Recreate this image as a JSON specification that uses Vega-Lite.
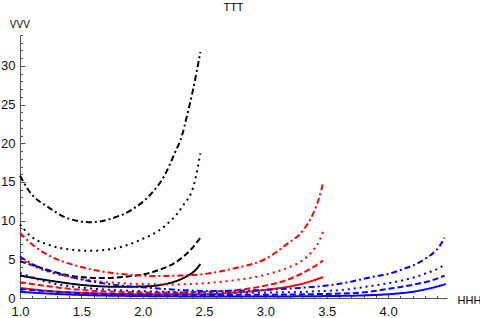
{
  "$schema": "https://vega.github.io/schema/vega-lite/v6.json",
  "width": 427,
  "height": 263,
  "autosize": {"type": "none"},
  "padding": {"left": 20, "top": 35, "right": 33, "bottom": 20},
  "background": "#ffffff",
  "title": {"text": "TTT", "fontSize": 11, "fontWeight": "normal", "font": "Liberation Sans", "color": "#000000", "anchor": "middle", "frame": "group", "baseline": "alphabetic", "offset": -3},
  "config": {"view": {"stroke": null}, "font": "Liberation Sans"},
  "data": {"values": [
    {"g":"black","s":"dashdot","x":1.0,"y":15.8},{"g":"black","s":"dashdot","x":1.08,"y":13.7},{"g":"black","s":"dashdot","x":1.23,"y":11.75},{"g":"black","s":"dashdot","x":1.39,"y":10.3},{"g":"black","s":"dashdot","x":1.58,"y":9.8},{"g":"black","s":"dashdot","x":1.77,"y":10.4},{"g":"black","s":"dashdot","x":1.91,"y":11.4},{"g":"black","s":"dashdot","x":2.07,"y":13.5},{"g":"black","s":"dashdot","x":2.18,"y":15.9},{"g":"black","s":"dashdot","x":2.26,"y":18.7},{"g":"black","s":"dashdot","x":2.32,"y":21.0},{"g":"black","s":"dashdot","x":2.36,"y":23.5},{"g":"black","s":"dashdot","x":2.41,"y":26.9},{"g":"black","s":"dashdot","x":2.47,"y":31.8},
    {"g":"black","s":"dotted","x":1.0,"y":9.5},{"g":"black","s":"dotted","x":1.08,"y":8.1},{"g":"black","s":"dotted","x":1.23,"y":6.9},{"g":"black","s":"dotted","x":1.39,"y":6.3},{"g":"black","s":"dotted","x":1.58,"y":6.1},{"g":"black","s":"dotted","x":1.77,"y":6.4},{"g":"black","s":"dotted","x":1.98,"y":7.5},{"g":"black","s":"dotted","x":2.18,"y":9.3},{"g":"black","s":"dotted","x":2.32,"y":11.75},{"g":"black","s":"dotted","x":2.42,"y":14.8},{"g":"black","s":"dotted","x":2.47,"y":18.7},
    {"g":"black","s":"dashed","x":1.0,"y":4.75},{"g":"black","s":"dashed","x":1.15,"y":4.0},{"g":"black","s":"dashed","x":1.39,"y":2.95},{"g":"black","s":"dashed","x":1.66,"y":2.57},{"g":"black","s":"dashed","x":1.93,"y":2.87},{"g":"black","s":"dashed","x":2.12,"y":3.55},{"g":"black","s":"dashed","x":2.29,"y":4.85},{"g":"black","s":"dashed","x":2.4,"y":6.4},{"g":"black","s":"dashed","x":2.47,"y":7.8},
    {"g":"black","s":"solid","x":1.0,"y":2.9},{"g":"black","s":"solid","x":1.26,"y":2.2},{"g":"black","s":"solid","x":1.53,"y":1.65},{"g":"black","s":"solid","x":1.8,"y":1.45},{"g":"black","s":"solid","x":2.02,"y":1.5},{"g":"black","s":"solid","x":2.21,"y":1.9},{"g":"black","s":"solid","x":2.3,"y":2.35},{"g":"black","s":"solid","x":2.37,"y":2.9},{"g":"black","s":"solid","x":2.43,"y":3.6},{"g":"black","s":"solid","x":2.47,"y":4.4},
    {"g":"red","s":"dashdot","x":1.0,"y":8.4},{"g":"red","s":"dashdot","x":1.12,"y":6.65},{"g":"red","s":"dashdot","x":1.23,"y":5.55},{"g":"red","s":"dashdot","x":1.5,"y":4.0},{"g":"red","s":"dashdot","x":1.72,"y":3.3},{"g":"red","s":"dashdot","x":1.9,"y":3.0},{"g":"red","s":"dashdot","x":2.1,"y":2.85},{"g":"red","s":"dashdot","x":2.3,"y":2.9},{"g":"red","s":"dashdot","x":2.5,"y":3.1},{"g":"red","s":"dashdot","x":2.75,"y":3.85},{"g":"red","s":"dashdot","x":3.0,"y":5.05},{"g":"red","s":"dashdot","x":3.17,"y":6.9},{"g":"red","s":"dashdot","x":3.31,"y":8.8},{"g":"red","s":"dashdot","x":3.39,"y":10.95},{"g":"red","s":"dashdot","x":3.44,"y":13.05},{"g":"red","s":"dashdot","x":3.47,"y":14.9},
    {"g":"red","s":"dotted","x":1.0,"y":5.15},{"g":"red","s":"dotted","x":1.12,"y":4.05},{"g":"red","s":"dotted","x":1.23,"y":3.4},{"g":"red","s":"dotted","x":1.5,"y":2.45},{"g":"red","s":"dotted","x":1.75,"y":2.0},{"g":"red","s":"dotted","x":2.0,"y":1.8},{"g":"red","s":"dotted","x":2.25,"y":1.75},{"g":"red","s":"dotted","x":2.5,"y":1.9},{"g":"red","s":"dotted","x":2.75,"y":2.3},{"g":"red","s":"dotted","x":3.0,"y":3.0},{"g":"red","s":"dotted","x":3.17,"y":3.85},{"g":"red","s":"dotted","x":3.31,"y":4.95},{"g":"red","s":"dotted","x":3.39,"y":6.2},{"g":"red","s":"dotted","x":3.44,"y":7.4},{"g":"red","s":"dotted","x":3.47,"y":8.6},
    {"g":"red","s":"dashed","x":1.0,"y":2.05},{"g":"red","s":"dashed","x":1.26,"y":1.45},{"g":"red","s":"dashed","x":1.53,"y":1.0},{"g":"red","s":"dashed","x":1.8,"y":0.8},{"g":"red","s":"dashed","x":2.2,"y":0.7},{"g":"red","s":"dashed","x":2.5,"y":0.8},{"g":"red","s":"dashed","x":2.75,"y":1.0},{"g":"red","s":"dashed","x":3.0,"y":1.6},{"g":"red","s":"dashed","x":3.17,"y":2.3},{"g":"red","s":"dashed","x":3.3,"y":3.2},{"g":"red","s":"dashed","x":3.42,"y":4.3},{"g":"red","s":"dashed","x":3.47,"y":4.85},
    {"g":"red","s":"solid","x":1.0,"y":1.3},{"g":"red","s":"solid","x":1.26,"y":0.87},{"g":"red","s":"solid","x":1.53,"y":0.65},{"g":"red","s":"solid","x":1.9,"y":0.5},{"g":"red","s":"solid","x":2.3,"y":0.48},{"g":"red","s":"solid","x":2.53,"y":0.5},{"g":"red","s":"solid","x":2.75,"y":0.7},{"g":"red","s":"solid","x":3.0,"y":1.05},{"g":"red","s":"solid","x":3.3,"y":1.85},{"g":"red","s":"solid","x":3.47,"y":2.7},
    {"g":"blue","s":"dashdot","x":1.0,"y":5.35},{"g":"blue","s":"dashdot","x":1.15,"y":4.0},{"g":"blue","s":"dashdot","x":1.31,"y":3.15},{"g":"blue","s":"dashdot","x":1.53,"y":2.3},{"g":"blue","s":"dashdot","x":1.8,"y":1.65},{"g":"blue","s":"dashdot","x":2.07,"y":1.3},{"g":"blue","s":"dashdot","x":2.34,"y":1.0},{"g":"blue","s":"dashdot","x":2.53,"y":0.9},{"g":"blue","s":"dashdot","x":2.8,"y":0.95},{"g":"blue","s":"dashdot","x":3.0,"y":1.05},{"g":"blue","s":"dashdot","x":3.28,"y":1.3},{"g":"blue","s":"dashdot","x":3.47,"y":1.55},{"g":"blue","s":"dashdot","x":3.63,"y":1.9},{"g":"blue","s":"dashdot","x":3.88,"y":2.75},{"g":"blue","s":"dashdot","x":4.0,"y":3.1},{"g":"blue","s":"dashdot","x":4.15,"y":3.9},{"g":"blue","s":"dashdot","x":4.23,"y":4.4},{"g":"blue","s":"dashdot","x":4.31,"y":5.15},{"g":"blue","s":"dashdot","x":4.37,"y":5.85},{"g":"blue","s":"dashdot","x":4.42,"y":6.7},{"g":"blue","s":"dashdot","x":4.46,"y":7.8},
    {"g":"blue","s":"dotted","x":1.0,"y":3.25},{"g":"blue","s":"dotted","x":1.15,"y":2.4},{"g":"blue","s":"dotted","x":1.31,"y":1.75},{"g":"blue","s":"dotted","x":1.53,"y":1.3},{"g":"blue","s":"dotted","x":1.8,"y":1.0},{"g":"blue","s":"dotted","x":2.07,"y":0.85},{"g":"blue","s":"dotted","x":2.34,"y":0.72},{"g":"blue","s":"dotted","x":2.53,"y":0.68},{"g":"blue","s":"dotted","x":2.8,"y":0.68},{"g":"blue","s":"dotted","x":3.0,"y":0.7},{"g":"blue","s":"dotted","x":3.28,"y":0.78},{"g":"blue","s":"dotted","x":3.47,"y":0.9},{"g":"blue","s":"dotted","x":3.63,"y":1.05},{"g":"blue","s":"dotted","x":3.88,"y":1.6},{"g":"blue","s":"dotted","x":4.0,"y":1.9},{"g":"blue","s":"dotted","x":4.15,"y":2.4},{"g":"blue","s":"dotted","x":4.23,"y":2.75},{"g":"blue","s":"dotted","x":4.31,"y":3.2},{"g":"blue","s":"dotted","x":4.37,"y":3.55},{"g":"blue","s":"dotted","x":4.42,"y":3.9},{"g":"blue","s":"dotted","x":4.46,"y":4.4},
    {"g":"blue","s":"dashed","x":1.0,"y":1.15},{"g":"blue","s":"dashed","x":1.26,"y":0.85},{"g":"blue","s":"dashed","x":1.53,"y":0.6},{"g":"blue","s":"dashed","x":1.8,"y":0.5},{"g":"blue","s":"dashed","x":2.2,"y":0.42},{"g":"blue","s":"dashed","x":2.53,"y":0.4},{"g":"blue","s":"dashed","x":3.0,"y":0.42},{"g":"blue","s":"dashed","x":3.4,"y":0.5},{"g":"blue","s":"dashed","x":3.74,"y":0.65},{"g":"blue","s":"dashed","x":4.01,"y":1.2},{"g":"blue","s":"dashed","x":4.23,"y":1.8},{"g":"blue","s":"dashed","x":4.37,"y":2.35},{"g":"blue","s":"dashed","x":4.46,"y":2.9},
    {"g":"blue","s":"solid","x":1.0,"y":0.8},{"g":"blue","s":"solid","x":1.26,"y":0.55},{"g":"blue","s":"solid","x":1.53,"y":0.38},{"g":"blue","s":"solid","x":2.0,"y":0.25},{"g":"blue","s":"solid","x":2.53,"y":0.2},{"g":"blue","s":"solid","x":3.0,"y":0.2},{"g":"blue","s":"solid","x":3.5,"y":0.25},{"g":"blue","s":"solid","x":3.88,"y":0.38},{"g":"blue","s":"solid","x":4.09,"y":0.6},{"g":"blue","s":"solid","x":4.2,"y":0.8},{"g":"blue","s":"solid","x":4.34,"y":1.25},{"g":"blue","s":"solid","x":4.47,"y":1.8}
  ]},
  "resolve": {"axis": {"x": "independent", "y": "independent"}},
  "layer": [
    {
      "mark": {"type": "point", "opacity": 0, "size": 1},
      "encoding": {
        "x": {"field": "x", "type": "quantitative", "scale": {"domain": [1, 4.48], "nice": false, "zero": false},
          "axis": {"orient": "bottom", "values": [1.1,1.2,1.3,1.4,1.6,1.7,1.8,1.9,2.1,2.2,2.3,2.4,2.6,2.7,2.8,2.9,3.1,3.2,3.3,3.4,3.6,3.7,3.8,3.9,4.1,4.2,4.3,4.4], "labels": false, "domain": false, "grid": false, "tickSize": -2.5, "tickColor": "#555555", "tickWidth": 1, "title": null}},
        "y": {"field": "y", "type": "quantitative", "scale": {"domain": [0, 34], "nice": false, "zero": false},
          "axis": {"orient": "left", "values": [1,2,3,4,6,7,8,9,11,12,13,14,16,17,18,19,21,22,23,24,26,27,28,29,31,32,33,34], "labels": false, "domain": false, "grid": false, "tickSize": -2.5, "tickColor": "#555555", "tickWidth": 1, "title": null}}
      }
    },
    {
      "mark": {"type": "line", "interpolate": "monotone", "strokeWidth": 2, "strokeCap": "butt"},
      "encoding": {
        "x": {"field": "x", "type": "quantitative", "scale": {"domain": [1, 4.48], "nice": false, "zero": false},
          "axis": {"orient": "bottom", "values": [1, 1.5, 2, 2.5, 3, 3.5, 4], "format": ".1f", "grid": false, "tickSize": -5, "tickColor": "#555555", "domainColor": "#555555", "domainWidth": 1, "labelFont": "Liberation Sans", "labelFontSize": 13, "labelColor": "#111111", "labelPadding": 12, "labelBaseline": "top", "labelFlush": false, "labelOverlap": false,
            "title": "HHH", "titleFont": "Liberation Sans", "titleFontSize": 11, "titleFontWeight": "normal", "titleColor": "#000000", "titleAngle": 0, "titleAlign": "left", "titleBaseline": "alphabetic", "titleX": 437, "titleY": 5.5}},
        "y": {"field": "y", "type": "quantitative", "scale": {"domain": [0, 34], "nice": false, "zero": false},
          "axis": {"orient": "left", "values": [0, 5, 10, 15, 20, 25, 30], "grid": false, "tickSize": -5, "tickColor": "#555555", "domainColor": "#555555", "domainWidth": 1, "labelFont": "Liberation Sans", "labelFontSize": 13, "labelColor": "#111111", "labelPadding": 10, "labelFlush": false, "labelOverlap": false,
            "title": "VVV", "titleFont": "Liberation Sans", "titleFontSize": 10, "titleFontWeight": "normal", "titleColor": "#000000", "titleAngle": 0, "titleAlign": "center", "titleBaseline": "alphabetic", "titleX": -0.7, "titleY": -8}},
        "color": {"field": "g", "type": "nominal", "scale": {"domain": ["black", "red", "blue"], "range": ["#000000", "#ff0000", "#0000ff"]}, "legend": null},
        "strokeDash": {"field": "s", "type": "nominal", "scale": {"domain": ["solid", "dashed", "dotted", "dashdot"], "range": [[1, 0], [6, 3], [2, 4], [6, 3, 2, 3]]}, "legend": null}
      }
    }
  ]
}
